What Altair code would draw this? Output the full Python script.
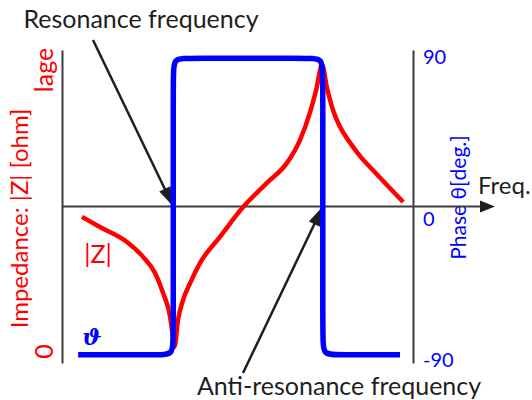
import altair as alt
import pandas as pd

# |Z| of the resonator (relative units) across the frequency sweep
freq_z = [5.7, 10.8, 18.5, 23.1, 26.5, 28.8, 30.8, 31.6, 32.05, 33.05, 34.5, 36.5,
          39.3, 45.0, 51.6, 58.4, 64.1, 67.8, 70.7, 72.4, 74.1, 75.5, 77.2, 79.2,
          82.1, 84.9, 88.6, 92.9, 97.2]
z_mag = [47.8, 44.2, 38.9, 33.6, 27.9, 20.8, 12.3, 5.2, 1.6, 11.2, 18.3, 24.3,
         31.4, 40.7, 51.3, 59.9, 67.0, 75.1, 85.1, 92.9, 101.8, 93.6, 85.8, 79.8,
         74.1, 69.4, 64.4, 58.7, 53.1]

# phase of the impedance: control points of the rounded step curve
freq_phase = [4.6, 27.2, 31.7, 31.7, 31.7, 31.7, 36.2, 69.8, 74.3, 74.3, 74.3, 74.3, 78.8, 96.3]
phase_deg = [-90, -90, -90, -80, 80, 90, 90, 90, 90, 80, -80, -90, -90, -90]

f_resonance = 31.7
f_antiresonance = 74.3

phase_ticks = ["90", "0", "-90"]
z_ticks = [0, 100]
z_tick_labels = ["0", "lage"]

RED = "#ff0000"
BLUE = "#0000ff"
INK = "#1e1e1e"
AXIS = "#3c3c3c"
FONT = "Lato"

W, H = 351, 313

x_scale = alt.Scale(domain=[0, 100])
z_scale = alt.Scale(domain=[-4.1, 107.1])
ph_scale = alt.Scale(domain=[-95, 95])

z_df = pd.DataFrame({"f": freq_z, "z": z_mag})
ph_df = pd.DataFrame({"f": freq_phase, "phase": phase_deg, "i": range(len(freq_phase))})
marks_df = pd.DataFrame({"f": [f_resonance, f_antiresonance], "phase": [0, 0]})
one = pd.DataFrame({"phase": [0]})

# impedance curve with the left axis
z_line = alt.Chart(z_df).mark_line(
    color=RED, strokeWidth=4.5, interpolate="monotone", strokeCap="butt"
).encode(
    x=alt.X("f:Q", scale=x_scale, axis=None),
    y=alt.Y("z:Q", scale=z_scale, axis=alt.Axis(
        orient="left", labels=False, ticks=False, grid=False,
        domainColor=AXIS, domainWidth=2,
        title="Impedance: |Z| [ohm]", titleColor=RED, titleFont=FONT, titleFontSize=24,
        titleFontWeight="normal", titleAngle=270, titleX=-42, titleY=168,
        titleAlign="center", titleBaseline="middle")),
)

# rotated tick labels of the impedance axis
z_labels = alt.Chart(pd.DataFrame({"z": z_ticks, "label": z_tick_labels})).mark_text(
    font=FONT, fontSize=25, color=RED, angle=270, align="center", baseline="middle"
).encode(
    x=alt.value(-17),
    y=alt.Y("z:Q", scale=z_scale, axis=None),
    text="label:N",
)

# phase curve with the right axis
phase_line = alt.Chart(ph_df).mark_line(
    color=BLUE, strokeWidth=5.5, interpolate="basis", strokeCap="butt"
).encode(
    x=alt.X("f:Q", scale=x_scale, axis=None),
    y=alt.Y("phase:Q", scale=ph_scale, axis=alt.Axis(
        orient="right", labels=False, ticks=False, grid=False,
        domainColor=AXIS, domainWidth=2,
        title="Phase θ[deg.]", titleColor=BLUE, titleFont=FONT, titleFontSize=21,
        titleFontWeight="normal", titleAngle=270, titleX=46, titleY=147,
        titleAlign="center", titleBaseline="middle")),
    order="i:Q",
)

# frequency axis drawn through phase = 0, with an arrow head
freq_axis = alt.Chart(one).mark_rule(color=AXIS, strokeWidth=2).encode(
    x=alt.value(0), x2=alt.value(421),
    y=alt.Y("phase:Q", scale=ph_scale, axis=None),
)
freq_head = alt.Chart(one).mark_point(
    shape="M0,0L-1.9,-0.75L-1.9,0.75Z", size=250, filled=True, color=INK,
    opacity=1, strokeWidth=0,
).encode(x=alt.value(433), y=alt.Y("phase:Q", scale=ph_scale, axis=None))

# pointer arrows to the two characteristic frequencies
HEAD = "M0,0L-0.6,1.9L0.6,1.9Z"
arrows = []
for idx, (tail_x, tail_y, ang) in enumerate([(31, -10, 154.3), (181, 323, 25.6)]):
    row = marks_df.iloc[[idx]]
    arrows.append(alt.Chart(row).mark_rule(color=INK, strokeWidth=2.5).encode(
        x=alt.X("f:Q", scale=x_scale, axis=None),
        y=alt.Y("phase:Q", scale=ph_scale, axis=None),
        x2=alt.value(tail_x), y2=alt.value(tail_y),
    ))
    arrows.append(alt.Chart(row).mark_point(
        shape=HEAD, size=420, filled=True, color=INK, opacity=1, strokeWidth=0, angle=ang
    ).encode(
        x=alt.X("f:Q", scale=x_scale, axis=None),
        y=alt.Y("phase:Q", scale=ph_scale, axis=None),
    ))

# phase tick labels beside the right axis
tick_layers = []
for lab, shift in zip(phase_ticks, [0, 13, 6]):
    tick_layers.append(alt.Chart(one).mark_text(
        text=lab, font=FONT, fontSize=20, color=BLUE, align="left", baseline="middle", dy=shift
    ).encode(x=alt.value(W + 10), y=alt.Y("phase:Q", scale=ph_scale, axis=None)).transform_calculate(
        phase=str(float(lab))
    ))


def note(text, x, y, color=INK, size=25, align="center", **kw):
    return alt.Chart(one).mark_text(
        text=text, font=kw.pop("font", FONT), fontSize=size, color=color,
        align=align, baseline="middle", **kw
    ).encode(x=alt.value(x), y=alt.value(y))


notes = [
    note("Resonance frequency", 79, -30),
    note("Anti-resonance frequency", 277, 337),
    note("Freq.", 416, 137, align="left", size=24),
    note("|Z|", 36, 205, color=RED, size=25),
    note("ϑ", 30, 288, color=BLUE, size=23, font="DejaVu Serif",
         fontWeight="bold", fontStyle="italic"),
]

chart = alt.layer(
    freq_axis, freq_head, *arrows, z_line, phase_line, z_labels, *tick_layers, *notes
).resolve_scale(y="independent").properties(
    width=W, height=H,
    padding={"left": 62, "top": 50, "right": 119, "bottom": 37},
    autosize=alt.AutoSizeParams(type="none"),
).configure_view(stroke=None)

chart.save("out.html", embed_options={"renderer": "svg", "actions": False})
